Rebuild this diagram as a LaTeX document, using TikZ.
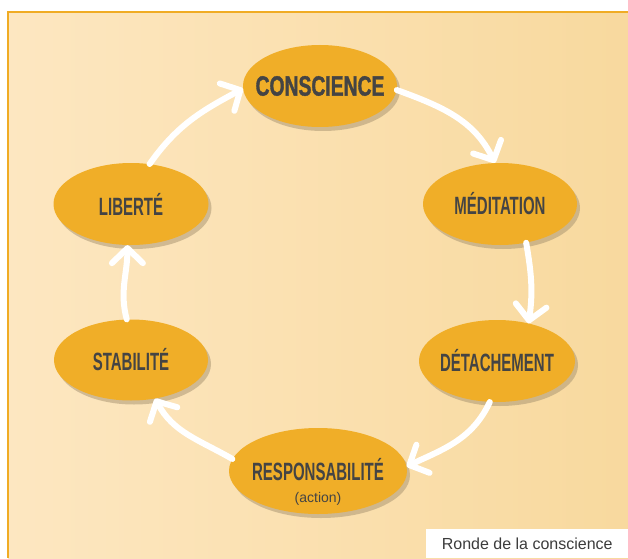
\documentclass[tikz,border=0pt]{standalone}
\usepackage{fontspec}
\setmainfont{Liberation Sans}
\newfontfamily\labelfont{Liberation Sans Bold}[FakeStretch=0.6]
\newfontfamily\titlefont{Liberation Sans Bold}[FakeStretch=0.69,FakeBold=1.2]
\usetikzlibrary{arrows.meta,shadows,shapes.geometric}
\definecolor{paleleft}{RGB}{253,231,193}
\definecolor{paleright}{RGB}{248,217,158}
\definecolor{framecolor}{RGB}{240,172,36}
\definecolor{bubblefill}{RGB}{240,174,40}
\definecolor{shadowbrown}{RGB}{165,145,110}
\definecolor{labelgrey}{RGB}{68,68,68}
\definecolor{captiongrey}{RGB}{60,60,60}
\begin{document}
\begin{tikzpicture}
[x=1pt,y=1pt,
  nodedecorate/.style={shape=ellipse,fill=bubblefill,inner sep=0pt,
    drop shadow={shadow xshift=3pt,shadow yshift=-4pt,fill=shadowbrown,opacity=.5}},
  textdecorate/.style={text=labelgrey,inner sep=0pt,font=\labelfont\fontsize{25}{28}\selectfont},
  linedecorate/.style={white,line width=6pt,line cap=round,
    -{Straight Barb[length=15pt,width=31pt,round]}}]
%% background and frame
\useasboundingbox (0,0) rectangle (628,558);
\shade[left color=paleleft,right color=paleright] (8,0) rectangle (628,546);
\draw[framecolor,line width=2.5pt] (8,0) -- (8,546) -- (628,546);
%% nodes or vertices
\foreach \nodename/\x/\y/\w/\h in {
  cons/320/472/154/82, medi/500/354/154/82, deta/497/197/156/82,
  resp/318/87/178/86, stab/131/198/154/81, libe/131/354/155/82} {
  \node (\nodename) at (\x,\y) [nodedecorate,minimum width=\w pt,minimum height=\h pt] {};
}
%% labels
\foreach \nodename/\labeltext in {
  medi/MÉDITATION, deta/DÉTACHEMENT, stab/STABILITÉ, libe/LIBERTÉ} {
  \node (\nodename-text) at (\nodename) [textdecorate] {\labeltext};
}
\node (cons-text) at (cons) [textdecorate,font=\titlefont\fontsize{28}{30}\selectfont] {CONSCIENCE};
\node (resp-text) at ([yshift=-11pt]resp.center) [textdecorate,align=center]
  {RESPONSABILITÉ\\[-6pt]{\normalfont\fontsize{14}{16}\selectfont(action)}};
%% edges or lines
\path
\foreach \startnode/\startangle/\endnode/\endangle/\outangle/\inangle in {
  cons/-3/medi/97/-20/116, medi/-56/deta/50/-80/82, deta/-100/resp/3/-115/25,
  resp/172/stab/-58/150/-62, stab/96/libe/-95/105/-90, libe/65/cons/182/55/-152} {
  (\startnode.\startangle) edge[linedecorate,out=\outangle,in=\inangle] (\endnode.\endangle)
};
%% caption
\node (caption) at (426,0) [anchor=south west,fill=white,inner sep=0pt,
  minimum width=202pt,minimum height=29pt,text=captiongrey,
  font=\fontsize{16}{18}\selectfont] {Ronde de la conscience};
\end{tikzpicture}
\end{document}
